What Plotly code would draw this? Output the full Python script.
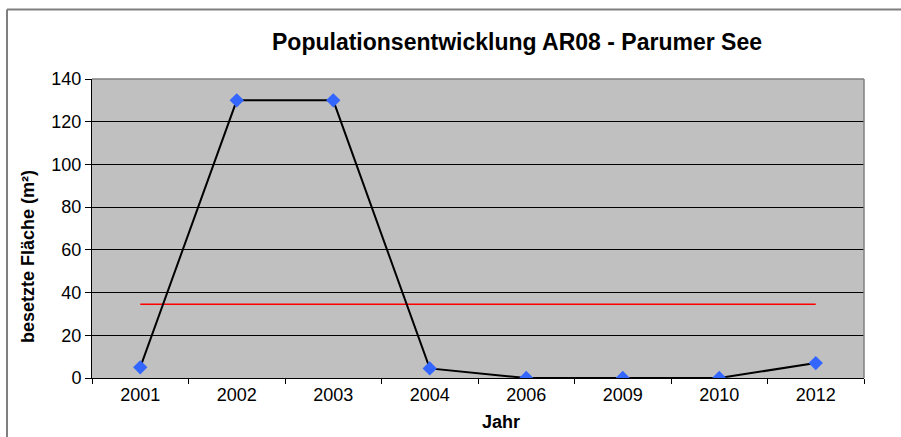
import plotly.graph_objects as go

jahre = ["2001", "2002", "2003", "2004", "2006", "2009", "2010", "2012"]
flaeche = [5, 130, 130, 4.5, 0, 0, 0, 7]
mittelwert = [34.56] * len(jahre)
y_ticks = [0, 20, 40, 60, 80, 100, 120, 140]

SW, SH = 901, 437                    # picture size
PL, PR, PT, PB = 92, 864, 79, 378    # plot area in picture px
W, H = SW, SH
L, T, R, B = PL, PT, SW - PR, SH - PB
pw, ph = PR - PL, PB - PT

def px(x):
    return (x - PL) / pw

def py(y):
    return (PB - y) / ph

fig = go.Figure()
fig.add_trace(go.Scatter(x=jahre, y=mittelwert, mode="lines",
                         line=dict(color="#FF0000", width=1.5), hoverinfo="skip"))
fig.add_trace(go.Scatter(x=jahre, y=flaeche, mode="lines+markers",
                         line=dict(color="#000000", width=2),
                         marker=dict(symbol="diamond", size=11, color="#3366FF")))

fig.update_layout(
    width=W, height=H,
    margin=dict(l=L, r=R, t=T, b=B, pad=0),
    paper_bgcolor="white", plot_bgcolor="#C0C0C0",
    showlegend=False,
    font=dict(family="Liberation Sans, Arial", size=18, color="black"),
    title=dict(text="<b>Populationsentwicklung AR08 - Parumer See</b>",
               x=px(517), xanchor="center", xref="paper",
               y=1 - 42 / H, yanchor="middle",
               font=dict(size=23, color="black")),
)
fig.update_xaxes(type="category", tickson="boundaries", ticks="outside", ticklen=5,
                 tickcolor="black", showline=True, linecolor="black", linewidth=1,
                 showgrid=False, mirror=False, range=[-0.5, len(jahre) - 0.5],
                 tickfont=dict(size=18))
fig.update_yaxes(range=[0, 140], tickvals=y_ticks, ticks="outside", ticklen=6,
                 tickcolor="black", showline=True, linecolor="black", linewidth=1,
                 showgrid=True, gridcolor="black", gridwidth=1, zeroline=False,
                 tickfont=dict(size=18))

# plot area border top/right (gray)
fig.add_shape(type="line", xref="paper", yref="paper", x0=0, x1=1, y0=1, y1=1,
              line=dict(color="#808080", width=1.5))
fig.add_shape(type="line", xref="paper", yref="paper", x0=1, x1=1, y0=0, y1=1,
              line=dict(color="#808080", width=1.5))
# outer chart border: top and left edges (right/bottom lie outside the picture)
fig.add_shape(type="line", xref="paper", yref="paper",
              x0=px(7), x1=px(SW + 5), y0=py(9.5), y1=py(9.5),
              line=dict(color="#7F7F7F", width=2), layer="below")
fig.add_shape(type="line", xref="paper", yref="paper",
              x0=px(7), x1=px(7), y0=py(SH + 5), y1=py(9.5),
              line=dict(color="#7F7F7F", width=2), layer="below")

fig.add_annotation(text="<b>Jahr</b>", xref="paper", yref="paper",
                   x=px(501), y=py(422), xanchor="center", yanchor="middle",
                   showarrow=False, font=dict(size=18))
fig.add_annotation(text="<b>besetzte Fläche (m²)</b>", xref="paper", yref="paper",
                   x=px(28), y=py(257), xanchor="center", yanchor="middle",
                   textangle=-90, showarrow=False, font=dict(size=18))

fig.write_html("out.html",
               config={"displayModeBar": False},
               post_script="document.body.style.margin='0';"
                           "document.documentElement.style.overflow='hidden';")
